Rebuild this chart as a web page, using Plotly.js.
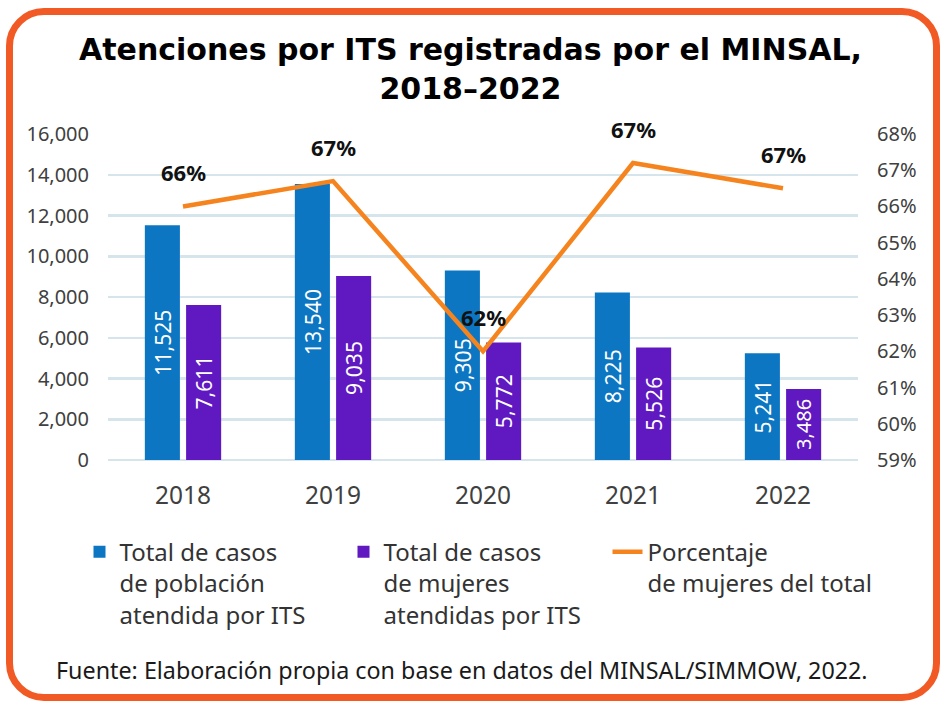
<!DOCTYPE html>
<html>
<head>
<meta charset="utf-8">
<script src="https://cdn.plot.ly/plotly-3.0.1.min.js"></script>
<style>
  html, body { margin: 0; padding: 0; background: #ffffff; overflow: hidden; }
  #wrap { position: relative; width: 941px; height: 705px; }
  #chart { position: absolute; left: 0; top: 0; width: 941px; height: 705px; }
  #frame {
    position: absolute; left: 6px; top: 8px; width: 934px; height: 693px;
    box-sizing: border-box; border: 7px solid #f15a24; border-radius: 38px;
    pointer-events: none;
  }
</style>
</head>
<body>
<div id="wrap">
  <div id="chart"></div>
  <div id="frame"></div>
</div>
<script>
// ---- Data ----
const years = ["2018", "2019", "2020", "2021", "2022"];
const totalPoblacion = [11525, 13540, 9305, 8225, 5241];
const totalMujeres = [7611, 9035, 5772, 5526, 3486];
const porcentajeMujeres = [66.0, 66.7, 62.0, 67.2, 66.5];
const porcentajeLabels = ["66%", "67%", "62%", "67%", "67%"];
const seriesNames = [
  "Total de casos<br>de población<br>atendida por ITS",
  "Total de casos<br>de mujeres<br>atendidas por ITS",
  "Porcentaje<br>de mujeres del total"
];
const yTickVals = [0, 2000, 4000, 6000, 8000, 10000, 12000, 14000, 16000];
const y2TickVals = [59, 60, 61, 62, 63, 64, 65, 66, 67, 68];

const fmt = v => v.toLocaleString("en-US");
const FONT = "Noto Sans, sans-serif";

const traces = [
  {
    type: "bar", name: seriesNames[0], x: years, y: totalPoblacion,
    marker: { color: "#0c76c2" },
    text: totalPoblacion.map(fmt), textposition: "inside",
    insidetextanchor: "middle", textangle: -90,
    textfont: { family: FONT, size: 24, color: "#ffffff" },
    hoverinfo: "skip"
  },
  {
    type: "bar", name: seriesNames[1], x: years, y: totalMujeres,
    marker: { color: "#6019c1" },
    text: totalMujeres.map(fmt), textposition: "inside",
    insidetextanchor: "middle", textangle: -90,
    textfont: { family: FONT, size: [24, 24, 24, 24, 20], color: "#ffffff" },
    hoverinfo: "skip"
  },
  {
    type: "scatter", mode: "lines", name: seriesNames[2], x: years, y: porcentajeMujeres,
    yaxis: "y2", line: { color: "#f5841f", width: 4.5 },
    hoverinfo: "skip"
  }
];

// category index i is the position of years[i] on the category axis
const annotations = years.map((yr, i) => ({
  x: i, y: porcentajeMujeres[i], xref: "x", yref: "y2",
  text: porcentajeLabels[i], showarrow: false, yshift: 34,
  font: { family: FONT, size: 22, color: "#111111", weight: "bold" }
}));
annotations.push({
  xref: "paper", yref: "paper", x: 0.472, y: -0.644, xanchor: "center", yanchor: "middle",
  text: "Fuente: Elaboración propia con base en datos del MINSAL/SIMMOW, 2022.",
  showarrow: false, font: { family: FONT, size: 23.3, color: "#1a1a1a" }
});

const layout = {
  width: 941, height: 705,
  margin: { l: 108, r: 83, t: 134, b: 245 },
  paper_bgcolor: "#ffffff", plot_bgcolor: "#ffffff",
  title: {
    text: "<b>Atenciones por ITS registradas por el MINSAL,<br>2018–2022</b>",
    font: { family: "DejaVu Sans, sans-serif", size: 30, color: "#000000", weight: "bold" },
    x: 0.5, xanchor: "center", xref: "container",
    y: 0.915, yanchor: "top", yref: "container"
  },
  barmode: "group", bargap: 0.45, bargroupgap: 0.15,
  xaxis: {
    type: "category", categoryorder: "array", categoryarray: years,
    range: [-0.5, years.length - 0.5], autorange: false,
    showgrid: false, showline: false, zeroline: false,
    ticks: "", ticklabelstandoff: 18,
    tickfont: { family: FONT, size: 24.5, color: "#404040" }
  },
  yaxis: {
    range: [0, 16000], tickvals: yTickVals, ticktext: yTickVals.map(fmt),
    showgrid: true, gridcolor: "#d6e5ec", gridwidth: 2.5,
    zeroline: true, zerolinecolor: "#d6e5ec", zerolinewidth: 2.5,
    showline: false, ticks: "", ticklabelstandoff: 18,
    tickfont: { family: FONT, size: 20, color: "#404040" }
  },
  yaxis2: {
    overlaying: "y", side: "right", range: [59, 68], tickvals: y2TickVals,
    ticktext: y2TickVals.map(v => v + "%"),
    showgrid: false, zeroline: false, showline: false, ticks: "", ticklabelstandoff: 18,
    tickfont: { family: FONT, size: 20, color: "#404040" }
  },
  showlegend: true,
  legend: {
    orientation: "h", x: -0.038, xanchor: "left", y: -0.214, yanchor: "top",
    valign: "top", entrywidth: 219, entrywidthmode: "pixels",
    traceorder: "normal",
    font: { family: FONT, size: 24, color: "#333333" }
  },
  annotations: annotations
};

Plotly.newPlot("chart", traces, layout, { displayModeBar: false, staticPlot: true });
</script>
</body>
</html>
